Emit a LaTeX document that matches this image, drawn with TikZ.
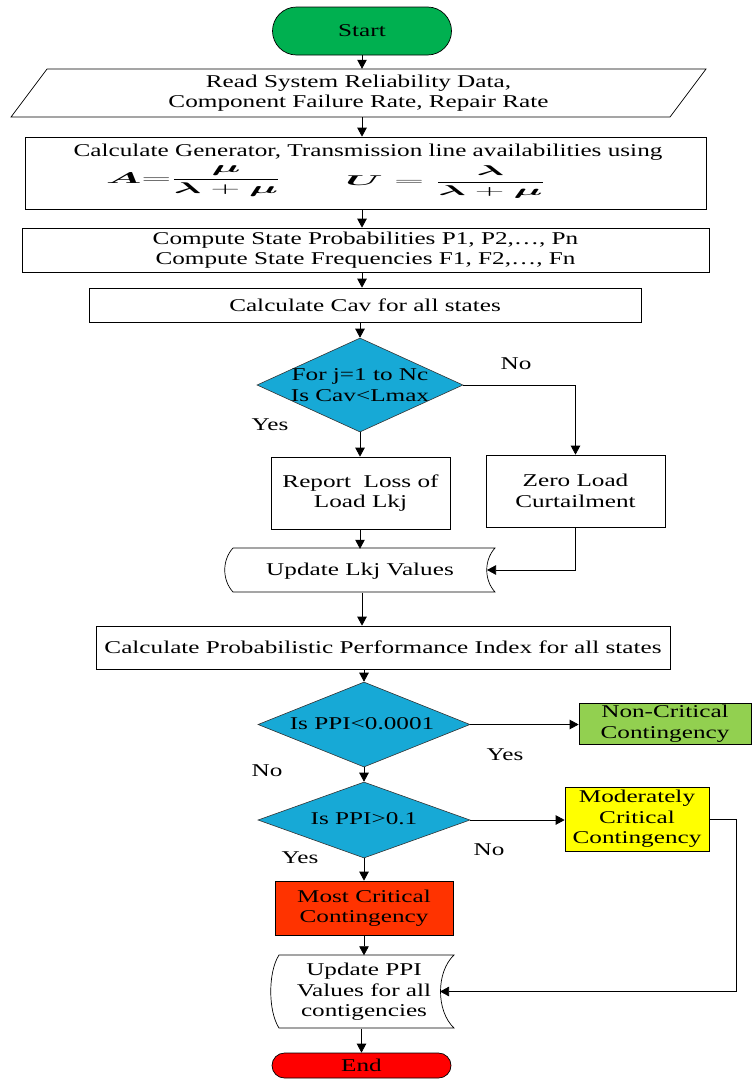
\documentclass[tikz,border=0pt]{standalone}
\usepackage{fontspec}
\setmainfont{Liberation Serif}[FakeStretch=1.4]
\usepackage{amsmath,bm,graphicx}
\usetikzlibrary{shapes.geometric,arrows.meta}
\definecolor{startgreen}{HTML}{00B050}
\definecolor{diacyan}{HTML}{17A9D6}
\definecolor{ncgreen}{HTML}{92D050}
\definecolor{modyellow}{HTML}{FFFF00}
\definecolor{mostred}{HTML}{FF3300}
\definecolor{endred}{HTML}{FF0000}
\begin{document}
\begin{tikzpicture}[x=1pt,y=-1pt,
  font=\fontsize{18}{20.5}\selectfont,
  box/.style={draw=black, line width=0.7pt, inner sep=0pt, align=center},
  txt/.style={inner sep=0pt, align=center},
  dia/.style={diamond, draw=black!80, line width=0.6pt, fill=diacyan, inner sep=0pt},
  outl/.style={draw=black, line width=0.7pt},
  arr/.style={draw=black, line width=0.7pt, -{Triangle[length=9pt,width=9.5pt]}},
  lbl/.style={inner sep=0pt}
]
\useasboundingbox (0,0) rectangle (752,1079);

% Start
\node[box, fill=startgreen, rounded corners=24pt, minimum width=179pt, minimum height=48pt] (start) at (362,31) {Start};

% Read (parallelogram)
\draw[outl] (47,69) -- (706,69) -- (670,117) -- (11,117) -- cycle;
\node[txt, minimum width=600pt, minimum height=48pt] (read) at (358.5,93) {Read System Reliability Data,\\Component Failure Rate, Repair Rate};

% Calculate availabilities
\node[box, minimum width=681pt, minimum height=72pt] (calc) at (365.5,173) {};
\node[txt] (calct) at (368,152) {Calculate Generator, Transmission line availabilities using};
\node[txt] (fa) at (193.5,181.5) {\resizebox*{175pt}{31pt}{$\bm{A}{=}\dfrac{\bm{\mu}}{\bm{\lambda}+\bm{\mu}}$}};
\node[txt] (fu) at (445.5,182) {\resizebox*{200pt}{32pt}{$\bm{U} = \dfrac{\bm{\lambda}}{\bm{\lambda}+\bm{\mu}}$}};

% Probabilities
\node[box, minimum width=687pt, minimum height=44pt] (prob) at (365.5,250) {Compute State Probabilities P1, P2,\dots, Pn\\Compute State Frequencies F1, F2,\dots, Fn};

% Cav
\node[box, minimum width=552pt, minimum height=34pt] (cav) at (365,305) {Calculate Cav for all states};

% Decision 1
\node[dia, minimum width=206pt, minimum height=94pt] (d1) at (360,385) {};
\node[txt] (d1t) at (360,385) {For j=1 to Nc\\Is Cav\textless Lmax};

% Report / Zero
\node[box, minimum width=179pt, minimum height=72pt] (report) at (360.5,493) {Report\ \ Loss of\\Load Lkj};
\node[box, minimum width=179pt, minimum height=72pt] (zero) at (575.5,491) {Zero Load\\Curtailment};

% Update Lkj (stored data)
\draw[outl] (233,548) -- (495,548) .. controls (484,560) and (484,580) .. (495,592) -- (233,592) .. controls (222,580) and (222,560) .. (233,548) -- cycle;
\node[txt, minimum width=250pt, minimum height=44pt] (updlkj) at (360,571) {Update Lkj Values};
\coordinate (lkjR) at (487,570);

% PPI calc
\node[box, minimum width=574pt, minimum height=43pt] (ppi) at (383,647.5) {Calculate Probabilistic Performance Index for all states};

% Decision 2
\node[dia, minimum width=212pt, minimum height=85pt] (d2) at (364,724.5) {};
\node[txt] (d2t) at (362,724) {Is PPI\textless 0.0001};
\node[box, fill=ncgreen, minimum width=172pt, minimum height=41pt] (nc) at (665,723.5) {Non-Critical\\Contingency};

% Decision 3
\node[dia, minimum width=212pt, minimum height=76pt] (d3) at (364,820) {};
\node[txt] (d3t) at (364,819) {Is PPI\textgreater 0.1};
\node[box, fill=modyellow, minimum width=144pt, minimum height=64pt] (mod) at (637,819) {Moderately\\Critical\\Contingency};

% Most critical
\node[box, fill=mostred, minimum width=178pt, minimum height=54pt] (most) at (364,908) {Most Critical\\Contingency};

% Update PPI (stored data)
\draw[outl] (279,955) -- (454,955) .. controls (436,972) and (436,1011) .. (454,1028) -- (279,1028) .. controls (268,1011) and (268,972) .. (279,955) -- cycle;
\node[txt, minimum width=150pt, minimum height=73pt] (updppi) at (364,992) {Update PPI\\Values for all\\contigencies};
\coordinate (ppiR) at (440,991.5);

% End
\node[box, fill=endred, rounded corners=12.5pt, minimum width=179pt, minimum height=25pt] (end) at (361.5,1065.5) {End};

% Labels
\node[lbl] (l1) at (516,364) {No};
\node[lbl] (l2) at (270,425) {Yes};
\node[lbl] (l3) at (505,755) {Yes};
\node[lbl] (l4) at (267,771) {No};
\node[lbl] (l5) at (489,850) {No};
\node[lbl] (l6) at (300,858) {Yes};

% Connectors
\draw[arr] (start.south) -- (start.south |- read.north);
\draw[arr] (read.south -| start.south) -- (calc.north -| start.south);
\draw[arr] (calc.south -| start.south) -- (prob.north -| start.south);
\draw[arr] (prob.south -| start.south) -- (cav.north -| start.south);
\draw[arr] (cav.south -| d1.north) -- (d1.north);
\draw[arr] (d1.east) -| (zero.north);
\draw[arr] (d1.south) -- (d1.south |- report.north);
\draw[arr] (report.south -| d1.south) -- (updlkj.north -| d1.south);
\draw[arr] (zero.south) |- (lkjR);
\draw[arr] (updlkj.south -| start.south) -- (ppi.north -| start.south);
\draw[arr] (ppi.south -| d2.north) -- (d2.north);
\draw[arr] (d2.east) -- (d2.east -| nc.west);
\draw[arr] (d2.south) -- (d3.north);
\draw[arr] (d3.east) -- (d3.east -| mod.west);
\draw[arr] (d3.south) -- (d3.south |- most.north);
\draw[arr] (mod.east) -- ++(27,0) |- (ppiR);
\draw[arr] (most.south) -- (most.south |- updppi.north);
\draw[arr] (updppi.south -| end.north) -- (end.north);
\end{tikzpicture}
\end{document}
